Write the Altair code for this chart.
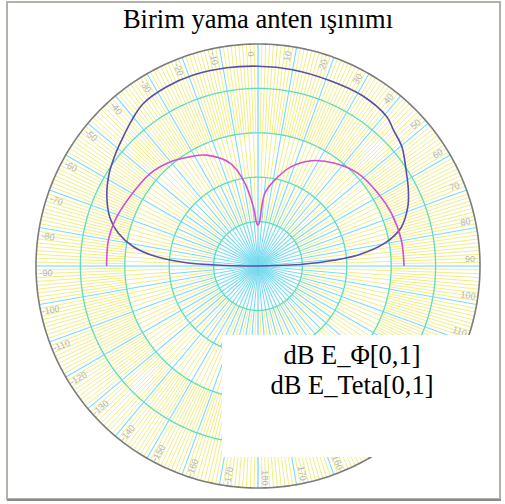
import altair as alt
import numpy as np
import pandas as pd

TITLE = "Birim yama anten ışınımı"
LEGEND_LINES = ["dB E_Φ[0,1]", "dB E_Teta[0,1]"]

# E_Phi cut: angle in degrees (clockwise from zenith) and level in dB
ephi_ang = [-90, -89, -87.7, -84.8, -81.2, -76.8, -72.1, -64.9, -58, -52, -47.3,
            -41, -35.2, -27, -18.7, -9, 0, 10, 21.3, 31.3, 40.8, 45, 50.3, 57.5,
            63, 68.4, 75.1, 79.7, 83.7, 86.3, 88.3, 90]
ephi_db = [-50, -43.0, -34.7, -27.1, -21.6, -17.7, -15.0, -12.4, -10.5, -9.2, -8.2,
           -6.6, -5.2, -4.7, -4.6, -4.8, -5.0, -5.1, -5.2, -5.0, -5.6, -6.8, -7.9, -10.4,
           -12.0, -13.7, -16.7, -20.9, -27.3, -35.0, -42.6, -50]

# E_Teta cut
eteta_ang = [-90, -80.1, -72.2, -61.6, -49.4, -40.2, -31.9, -24.8, -15.2, -9.7, -4.5,
             -1.7, 0, 1.7, 5.3, 11, 18.5, 26.9, 36.8, 47.2, 58.8, 68.4, 79.7, 90]
eteta_db = [-15.9, -15.8, -16.2, -17.2, -18.0, -19.3, -21.0, -22.5, -26.0, -30.4, -36.6,
            -40.4, -40.8, -40.3, -33.6, -30.3, -26.4, -23.4, -21.1, -19.3, -18.4, -17.7,
            -17.2, -17.1]

DB_MIN, DB_MAX = -50, 0
ring_db = [-40, -30, -20, -10]
label_ang = list(range(-170, 190, 10))

W, H = 505, 504
CX, CY, R = 258, 266, 222

xs = alt.Scale(domain=[-1, 1], range=[CX - R, CX + R], nice=False, zero=False)
ys = alt.Scale(domain=[-1, 1], range=[CY + R, CY - R], nice=False, zero=False)

def X(f):
    return alt.X(f, type="quantitative", scale=xs, axis=None)

def Y(f):
    return alt.Y(f, type="quantitative", scale=ys, axis=None)

# ---- polar grid: radial spokes -------------------------------------------
spokes = []
for a in np.arange(2.5, 360, 5):
    spokes.append(dict(a=a, r0=0.2, r1=0.4, kind="y"))
for a in range(0, 360, 2):
    if a % 10:
        spokes.append(dict(a=a, r0=0.4, r1=0.6, kind="y"))
for a in range(0, 360, 1):
    if a % 10:
        spokes.append(dict(a=a, r0=0.6, r1=1.0, kind="y"))
for a in range(5, 360, 10):
    spokes.append(dict(a=a, r0=0.0, r1=0.4, kind="c"))
for a in range(0, 360, 10):
    spokes.append(dict(a=a, r0=0.0, r1=1.0, kind="c" if a % 90 else "axis"))
spokes_df = pd.DataFrame(spokes)

spoke_layer = (
    alt.Chart(spokes_df)
    .transform_calculate(
        x0="datum.r0 * sin(datum.a * PI / 180)",
        y0="datum.r0 * cos(datum.a * PI / 180)",
        x1="datum.r1 * sin(datum.a * PI / 180)",
        y1="datum.r1 * cos(datum.a * PI / 180)",
    )
    .mark_rule()
    .encode(
        x=X("x0"), y=Y("y0"), x2="x1:Q", y2="y1:Q",
        color=alt.Color("kind:N", scale=alt.Scale(domain=["y", "c", "axis"],
                                                  range=["#f2ee84", "#7adcee", "#6fd6ee"]),
                        legend=None),
        strokeWidth=alt.StrokeWidth("kind:N", scale=alt.Scale(domain=["y", "c", "axis"],
                                                              range=[1, 1.2, 2]),
                                    legend=None),
        order=alt.Order("kind:N", sort="descending"),
    )
)

# ---- concentric dB rings -------------------------------------------------
ring_rows = []
for d in ring_db + [DB_MAX]:
    for a in range(0, 361, 1):
        ring_rows.append(dict(ring=d, a=a, outer=(d == DB_MAX)))
rings_df = pd.DataFrame(ring_rows)

ring_calc = dict(
    rr=f"(datum.ring - ({DB_MIN})) / ({DB_MAX - DB_MIN})",
)
rings_layer = (
    alt.Chart(rings_df)
    .transform_filter("!datum.outer")
    .transform_calculate(**ring_calc)
    .transform_calculate(
        x="datum.rr * sin(datum.a * PI / 180)",
        y="datum.rr * cos(datum.a * PI / 180)",
    )
    .mark_line(color="#5edcc0", strokeWidth=1.3)
    .encode(x=X("x"), y=Y("y"), detail="ring:N", order="a:Q")
)
outer_layer = (
    alt.Chart(rings_df)
    .transform_filter("datum.outer")
    .transform_calculate(**ring_calc)
    .transform_calculate(
        x="datum.rr * sin(datum.a * PI / 180)",
        y="datum.rr * cos(datum.a * PI / 180)",
    )
    .mark_line(color="#7c7c7c", strokeWidth=1.6)
    .encode(x=X("x"), y=Y("y"), detail="ring:N", order="a:Q")
)

# ---- angle labels around the rim ----------------------------------------
lab_df = pd.DataFrame({
    "a": label_ang,
    "txt": [str(a) for a in label_ang],
    "rot": [((a - 90) if a >= 0 else (a + 90)) % 360 for a in label_ang],
})
label_layer = (
    alt.Chart(lab_df)
    .transform_calculate(
        x="0.955 * sin((datum.a - 2) * PI / 180)",
        y="0.955 * cos((datum.a - 2) * PI / 180)",
    )
    .mark_text(font="Liberation Sans", fontSize=9, color="#b4b4b4",
               align="center", baseline="middle")
    .encode(x=X("x"), y=Y("y"), text="txt:N", angle=alt.Angle("rot:Q", scale=None))
)

# ---- radiation pattern curves -------------------------------------------
curves_df = pd.concat([
    pd.DataFrame({"series": "phi", "ang": ephi_ang, "db": ephi_db}),
    pd.DataFrame({"series": "teta", "ang": eteta_ang, "db": eteta_db}),
], ignore_index=True)

curve_layer = (
    alt.Chart(curves_df)
    .transform_calculate(rr=f"max(datum.db - ({DB_MIN}), 0) / ({DB_MAX - DB_MIN})")
    .transform_calculate(
        x="datum.rr * sin(datum.ang * PI / 180)",
        y="datum.rr * cos(datum.ang * PI / 180)",
    )
    .mark_line(strokeWidth=1.6, interpolate="catmull-rom")
    .encode(
        x=X("x"), y=Y("y"), order="ang:Q",
        color=alt.Color("series:N", scale=alt.Scale(domain=["phi", "teta"],
                                                    range=["#5a4fa6", "#d24fd2"]),
                        legend=None),
    )
)

# ---- legend box and texts -------------------------------------------------
legend_box = (
    alt.Chart(pd.DataFrame({"k": [0]}))
    .mark_rect(fill="white")
    .encode(x=alt.value(222), x2=alt.value(492), y=alt.value(335), y2=alt.value(457))
)
texts_df = pd.DataFrame({
    "txt": [TITLE] + LEGEND_LINES,
    "px": [258, 352, 352],
    "py": [28, 364, 394],
})
text_layer = (
    alt.Chart(texts_df)
    .mark_text(font="Liberation Serif", fontSize=26.5, color="black",
               align="center", baseline="alphabetic")
    .encode(x=alt.X("px:Q", scale=None), y=alt.Y("py:Q", scale=None), text="txt:N")
)

# ---- window frame ----------------------------------------------------------
frame = (
    alt.Chart(pd.DataFrame({"k": [0]}))
    .mark_rect(fill=None, stroke="#b2b2aa", strokeWidth=2)
    .encode(x=alt.value(7), x2=alt.value(500), y=alt.value(2), y2=alt.value(499))
)
frame_shadow = (
    alt.Chart(pd.DataFrame({"k": [0]}))
    .mark_rule(color="#8a8a86", strokeWidth=2)
    .encode(x=alt.value(7), x2=alt.value(501), y=alt.value(500))
)

chart = (
    alt.layer(spoke_layer, rings_layer, outer_layer, label_layer, curve_layer,
              legend_box, text_layer, frame, frame_shadow)
    .properties(width=W, height=H, autosize=alt.AutoSizeParams(type="none"),
                padding=0, background="white")
    .resolve_scale(color="independent", strokeWidth="independent")
    .configure_view(stroke=None)
)

chart.save("out.html", embed_options={"renderer": "svg", "actions": False})
